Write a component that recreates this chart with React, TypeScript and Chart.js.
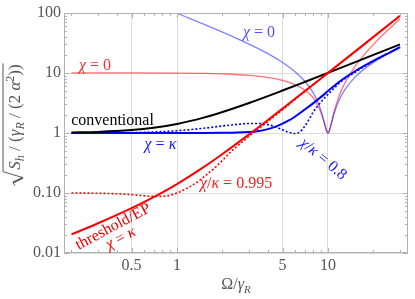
import React, { useEffect, useRef } from "react";
import { Chart, registerables } from "chart.js";
Chart.register(...registerables);

const FONT = '"Liberation Serif"';

// ---- data ----
const thresholdX = [0.2, 0.3, 0.5, 0.7, 1, 1.5, 2, 3, 4, 5, 7, 10, 15, 20, 30];
const thresholdY = [0.0204, 0.0313, 0.0559, 0.0854, 0.141, 0.27, 0.447, 0.949, 1.65, 2.55, 4.95, 10.05, 22.5, 40.0, 90.0];

const nearEpX = [0.2, 0.3, 0.4, 0.5, 0.6, 0.7, 0.8, 0.9, 1, 1.2, 1.4, 1.6, 1.8, 2, 2.3, 2.6, 3, 3.5, 4, 5, 7, 10, 15, 20, 30];
const nearEpY = [0.1, 0.099, 0.097, 0.094, 0.09, 0.088, 0.088, 0.092, 0.1, 0.125, 0.16, 0.21, 0.27, 0.35, 0.5, 0.65, 0.88, 1.2, 1.55, 2.45, 4.9, 10, 22.4, 40, 90];

const convX = [0.2, 0.3, 0.5, 0.7, 1, 1.5, 2, 3, 5, 7, 10, 15, 20, 30];
const convY = [1.02, 1.044, 1.118, 1.221, 1.414, 1.803, 2.236, 3.162, 5.099, 7.071, 10.05, 15.03, 20.02, 30.02];

const redZeroX = [0.2, 0.5, 1, 1.5, 2, 3, 4, 5, 6, 7, 8, 8.5, 9, 9.5, 9.8, 10, 10.2, 10.5, 11, 12, 13, 15, 17, 20, 25, 30];
const redZeroY = [10.05, 10.02, 9.95, 9.83, 9.65, 9.16, 8.46, 7.57, 6.48, 5.2, 3.83, 2.95, 2.15, 1.4, 1.08, 1.0, 1.08, 1.43, 2.33, 4.51, 6.97, 12.54, 18.9, 30.0, 52.5, 80.0];

const blueZeroX = [0.99, 1, 1.2, 1.5, 2, 2.5, 3, 4, 5, 6, 7, 8, 8.5, 9, 9.5, 9.8, 10, 10.2, 10.5, 11, 12, 13, 15, 17, 20, 25, 30];
const blueZeroY = [100, 99, 82.1, 65.2, 48, 37.5, 30.3, 21, 15, 10.7, 7.35, 4.61, 3.41, 2.34, 1.43, 1.08, 1.0, 1.08, 1.4, 2.16, 3.8, 5.4, 8.39, 11.16, 15.03, 21.0, 26.7];

const blueKappaX = [0.2, 0.5, 1, 1.5, 2, 2.5, 3, 3.5, 4, 4.5, 5, 5.5, 6, 7, 8, 9, 10, 12, 15, 20, 25, 30];
const blueKappaY = [1, 1, 1, 1, 1.005, 1.015, 1.04, 1.08, 1.16, 1.28, 1.43, 1.62, 1.85, 2.45, 3.15, 4.0, 5.0, 7.3, 10.6, 15.9, 21.3, 26.9];

const blue08X = [0.2, 0.3, 0.5, 0.7, 1, 1.5, 2, 2.5, 3, 3.5, 4, 4.5, 5, 5.5, 6, 6.5, 7, 7.5, 8, 9, 10, 11, 12, 13.3, 15, 17, 20, 25, 30];
const blue08Y = [1, 1.0, 1.015, 1.04, 1.09, 1.2, 1.31, 1.39, 1.44, 1.44, 1.38, 1.26, 1.13, 1.03, 0.98, 1.04, 1.28, 1.7, 2.25, 3.3, 4.4, 5.6, 6.9, 8.4, 10.2, 12.4, 15.9, 21.3, 26.9];

const xTickVals = [0.5, 1, 5, 10];
const xTickLabels = ["0.5", "1", "5", "10"];
const yTickVals = [0.01, 0.1, 1, 10, 100];
const yTickLabels = ["0.01", "0.10", "1", "10", "100"];
const xRange = [0.1785, 33.87];
const yRange = [0.01, 100];

type Seg = { t: string; it?: boolean; sub?: boolean; sup?: boolean };

// annotation anchors (data coordinates), text, colour, angle
const labelX = [0.286, 3.49, 0.374, 0.777, 2.46, 9.41, 0.374, 0.42];
const labelY = [14.1, 50, 1.65, 0.68, 0.147, 0.383, 0.0285, 0.0183];
const labelTexts: Seg[][] = [
  [{ t: "χ", it: true }, { t: " = 0" }],
  [{ t: "χ", it: true }, { t: " = 0" }],
  [{ t: "conventional" }],
  [{ t: "χ", it: true }, { t: " = " }, { t: "κ", it: true }],
  [{ t: "χ", it: true }, { t: "/" }, { t: "κ", it: true }, { t: " = 0.995" }],
  [{ t: "χ", it: true }, { t: "/" }, { t: "κ", it: true }, { t: " = 0.8" }],
  [{ t: "threshold/EP" }],
  [{ t: "χ", it: true }, { t: " = " }, { t: "κ", it: true }],
];
const labelColors = ["#f03030", "#5050ff", "#000000", "#1a1aff", "#f02020", "#1a1aff", "#f00000", "#f00000"];
const labelAngles = [0, 0, 0, 0, 0, 40, -28, -28];

const pts = (xs: number[], ys: number[]) => xs.map((x, i) => ({ x, y: ys[i] }));

function segFont(s: Seg, size: number) {
  const sz = s.sub || s.sup ? Math.round(size * 0.7) : size;
  return `${s.it ? "italic " : ""}${sz}px ${FONT}`;
}
function measureRich(ctx: CanvasRenderingContext2D, segs: Seg[], size: number) {
  let w = 0;
  for (const s of segs) {
    ctx.font = segFont(s, size);
    w += ctx.measureText(s.t).width;
  }
  return w;
}
function drawRich(ctx: CanvasRenderingContext2D, segs: Seg[], size: number, x: number, y: number) {
  let cx = x;
  ctx.textAlign = "left";
  ctx.textBaseline = "alphabetic";
  for (const s of segs) {
    ctx.font = segFont(s, size);
    const dy = s.sub ? size * 0.25 : s.sup ? -size * 0.38 : 0;
    ctx.fillText(s.t, cx, y + dy);
    cx += ctx.measureText(s.t).width;
  }
  return cx - x;
}

const decor = {
  id: "decor",
  afterDatasetsDraw(chart: any) {
    const { ctx, chartArea: ca } = chart;
    const xs = chart.scales.x;
    const ys = chart.scales.y;
    ctx.save();
    ctx.strokeStyle = "#b0b0b0";
    ctx.lineWidth = 1;
    ctx.strokeRect(ca.left + 0.5, ca.top + 0.5, ca.right - ca.left - 1, ca.bottom - ca.top - 1);
    ctx.beginPath();
    for (let e = -1; e <= 1; e++) {
      for (let k = 1; k <= 9; k++) {
        const v = k * Math.pow(10, e);
        if (v < xRange[0] || v > xRange[1]) continue;
        const px = Math.round(xs.getPixelForValue(v)) + 0.5;
        const len = xTickVals.includes(v) ? 5 : 3;
        ctx.moveTo(px, ca.bottom);
        ctx.lineTo(px, ca.bottom - len);
        ctx.moveTo(px, ca.top);
        ctx.lineTo(px, ca.top + len);
      }
    }
    for (let e = -2; e <= 1; e++) {
      for (let k = 1; k <= 9; k++) {
        const v = k * Math.pow(10, e);
        const py = Math.round(ys.getPixelForValue(v)) + 0.5;
        const len = k === 1 ? 5 : 3;
        ctx.moveTo(ca.left, py);
        ctx.lineTo(ca.left + len, py);
        ctx.moveTo(ca.right, py);
        ctx.lineTo(ca.right - len, py);
      }
    }
    ctx.stroke();

    labelTexts.forEach((segs, i) => {
      const px = xs.getPixelForValue(labelX[i]);
      const py = ys.getPixelForValue(labelY[i]);
      const w = measureRich(ctx, segs, 16);
      ctx.save();
      ctx.translate(px, py);
      ctx.rotate((labelAngles[i] * Math.PI) / 180);
      ctx.fillStyle = labelColors[i];
      drawRich(ctx, segs, 16, -w / 2, 5.5);
      ctx.restore();
    });

    ctx.fillStyle = "#555";
    const xt: Seg[] = [{ t: "Ω" }, { t: "/" }, { t: "γ", it: true }, { t: "R", it: true, sub: true }];
    const xw = measureRich(ctx, xt, 16);
    drawRich(ctx, xt, 16, (ca.left + ca.right) / 2 - xw / 2, 289);

    const yt: Seg[] = [
      { t: "S", it: true }, { t: "h", it: true, sub: true }, { t: " / " }, { t: "(" },
      { t: "γ", it: true }, { t: "R", it: true, sub: true }, { t: " / " }, { t: "(2 " },
      { t: "α", it: true }, { t: "2", sup: true }, { t: "))" },
    ];
    const size = 17;
    const W = measureRich(ctx, yt, size);
    const total = W + 16;
    const centerY = (ca.top + ca.bottom) / 2 - 8;
    ctx.save();
    ctx.translate(20, centerY);
    ctx.rotate(-Math.PI / 2);
    const u0 = -total / 2 + 16;
    drawRich(ctx, yt, size, u0, 0);
    ctx.strokeStyle = "#555";
    ctx.lineWidth = 1;
    ctx.beginPath();
    ctx.moveTo(u0 - 16, -5);
    ctx.lineTo(u0 - 13, -7);
    ctx.stroke();
    ctx.lineWidth = 1.8;
    ctx.beginPath();
    ctx.moveTo(u0 - 13, -7);
    ctx.lineTo(u0 - 8, 3);
    ctx.stroke();
    ctx.lineWidth = 1;
    ctx.beginPath();
    ctx.moveTo(u0 - 8, 3);
    ctx.lineTo(u0 - 2, -17);
    ctx.lineTo(u0 + W + 1, -17);
    ctx.stroke();
    ctx.restore();
    ctx.restore();
  },
};

export default function App() {
  const ref = useRef<HTMLCanvasElement | null>(null);
  useEffect(() => {
    if (!ref.current) return;
    const line = (data: any, color: string, width: number, dash: number[] = []) => ({
      data,
      borderColor: color,
      borderWidth: width,
      borderDash: dash,
      pointRadius: 0,
      fill: false,
      cubicInterpolationMode: "monotone" as const,
    });
    const chart = new Chart(ref.current, {
      type: "line",
      data: {
        datasets: [
          line(pts(thresholdX, thresholdY), "#ff0000", 2),
          line(pts(convX, convY), "#000000", 2),
          line(pts(blueKappaX, blueKappaY), "#0000ff", 2),
          line(pts(blue08X, blue08Y), "#0000ff", 1.6, [2, 2]),
          line(pts(nearEpX, nearEpY), "#ff0000", 1.6, [2, 2]),
          line(pts(blueZeroX, blueZeroY), "rgba(0,0,255,0.5)", 1.3),
          line(pts(redZeroX, redZeroY), "rgba(255,0,0,0.55)", 1.3),
        ],
      },
      options: {
        animation: false,
        responsive: false,
        events: [],
        font: { family: FONT },
        layout: { padding: { left: 0, top: 13, right: 7, bottom: 0 } },
        plugins: { legend: { display: false }, tooltip: { enabled: false } },
        scales: {
          x: {
            type: "logarithmic",
            min: xRange[0],
            max: xRange[1],
            afterBuildTicks: (s: any) => {
              s.ticks = xTickVals.map((v) => ({ value: v }));
            },
            afterFit: (s: any) => {
              s.height = 46;
            },
            ticks: {
              autoSkip: false,
              maxRotation: 0,
              padding: 3,
              color: "#555",
              font: { family: FONT, size: 16 },
              callback: (_v: any, i: number) => xTickLabels[i],
            },
            grid: { color: "#dcdcdc", drawTicks: false },
            border: { display: false },
          },
          y: {
            type: "logarithmic",
            min: yRange[0],
            max: yRange[1],
            afterBuildTicks: (s: any) => {
              s.ticks = yTickVals.map((v) => ({ value: v }));
            },
            afterFit: (s: any) => {
              s.width = 64;
            },
            ticks: {
              autoSkip: false,
              padding: 3,
              color: "#555",
              font: { family: FONT, size: 16 },
              callback: (_v: any, i: number) => yTickLabels[i],
            },
            grid: { color: "#dcdcdc", drawTicks: false },
            border: { display: false },
          },
        },
      } as any,
      plugins: [decor],
    });
    return () => chart.destroy();
  }, []);
  return (
    <div style={{ position: "absolute", left: 0, top: 0, width: 415, height: 299, background: "#fff" }}>
      <canvas ref={ref} width={415} height={299} />
    </div>
  );
}
